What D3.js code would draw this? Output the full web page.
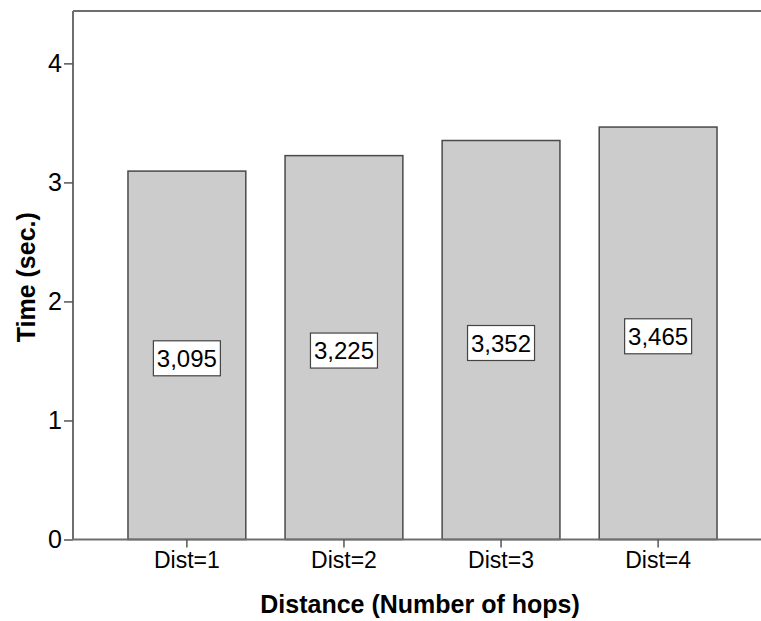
<!DOCTYPE html>
<html>
<head>
<meta charset="utf-8">
<script src="https://cdn.jsdelivr.net/npm/d3@7"></script>
<style>
  html, body { margin: 0; padding: 0; background: #fff; }
  svg { display: block; font-family: "Liberation Sans", Arial, sans-serif; }
</style>
</head>
<body>
<svg id="chart" width="761" height="621"></svg>
<script>
const categories = ["Dist=1", "Dist=2", "Dist=3", "Dist=4"];
const values = [3.095, 3.225, 3.352, 3.465];
const valueLabels = ["3,095", "3,225", "3,352", "3,465"];
const yTicks = [0, 1, 2, 3, 4];
const xTitle = "Distance (Number of hops)";
const yTitle = "Time (sec.)";

const svg = d3.select("#chart");
const plotLeft = 73, plotTop = 11, plotBottom = 539.5;

const y = d3.scaleLinear().domain([0, 4.44]).range([plotBottom, plotTop]);
const x = d3.scaleBand().domain(categories).range([plotLeft, 772])
  .paddingInner(0.25).paddingOuter(0.35);

// top frame line
svg.append("line")
  .attr("x1", plotLeft).attr("x2", 761).attr("y1", plotTop).attr("y2", plotTop)
  .attr("stroke", "#6e6e6e").attr("stroke-width", 2);

// bars
svg.append("g").selectAll("rect").data(values).join("rect")
  .attr("x", (d, i) => x(categories[i]))
  .attr("y", d => y(d))
  .attr("width", x.bandwidth())
  .attr("height", d => y(0) - y(d))
  .attr("fill", "#cccccc")
  .attr("stroke", "#4a4a4a")
  .attr("stroke-width", 1.5);

// y axis
const yAxis = svg.append("g").attr("transform", `translate(${plotLeft},0)`)
  .call(d3.axisLeft(y).tickValues(yTicks).tickFormat(d3.format("d")).tickSize(9).tickPadding(2));
yAxis.select(".domain").attr("stroke", "#6e6e6e").attr("stroke-width", 2)
  .attr("d", `M0,${plotTop}V${plotBottom}`);
yAxis.selectAll(".tick line").attr("stroke", "#555").attr("stroke-width", 1.5);
yAxis.selectAll(".tick text").attr("font-size", 25).attr("fill", "#000")
  .attr("font-family", "Liberation Sans, Arial, sans-serif");

// x axis
const xAxis = svg.append("g").attr("transform", `translate(0,${plotBottom})`)
  .call(d3.axisBottom(x).tickSize(8).tickPadding(4));
xAxis.select(".domain").attr("stroke", "#6e6e6e").attr("stroke-width", 2)
  .attr("d", `M${plotLeft},0H761`);
xAxis.selectAll(".tick line").attr("stroke", "#555").attr("stroke-width", 1.5);
xAxis.selectAll(".tick text").attr("font-size", 23).attr("fill", "#000")
  .attr("font-family", "Liberation Sans, Arial, sans-serif");

// value label boxes
const lbl = svg.append("g").selectAll("g").data(values).join("g")
  .attr("transform", (d, i) => `translate(${x(categories[i]) + x.bandwidth() / 2},${(y(d) + y(0)) / 2 + 3})`);
lbl.append("rect")
  .attr("x", -33.5).attr("y", -17.5).attr("width", 67).attr("height", 35)
  .attr("fill", "#fff").attr("stroke", "#444").attr("stroke-width", 1.2);
lbl.append("text")
  .attr("text-anchor", "middle").attr("dy", "0.36em")
  .attr("font-size", 24).attr("fill", "#000")
  .text((d, i) => valueLabels[i]);

// titles
svg.append("text")
  .attr("x", 420).attr("y", 613)
  .attr("text-anchor", "middle").attr("font-weight", "bold").attr("font-size", 25)
  .text(xTitle);
svg.append("text")
  .attr("transform", `translate(35,${(plotTop + plotBottom) / 2 + 2}) rotate(-90)`)
  .attr("text-anchor", "middle").attr("font-weight", "bold").attr("font-size", 25)
  .text(yTitle);
</script>
</body>
</html>
